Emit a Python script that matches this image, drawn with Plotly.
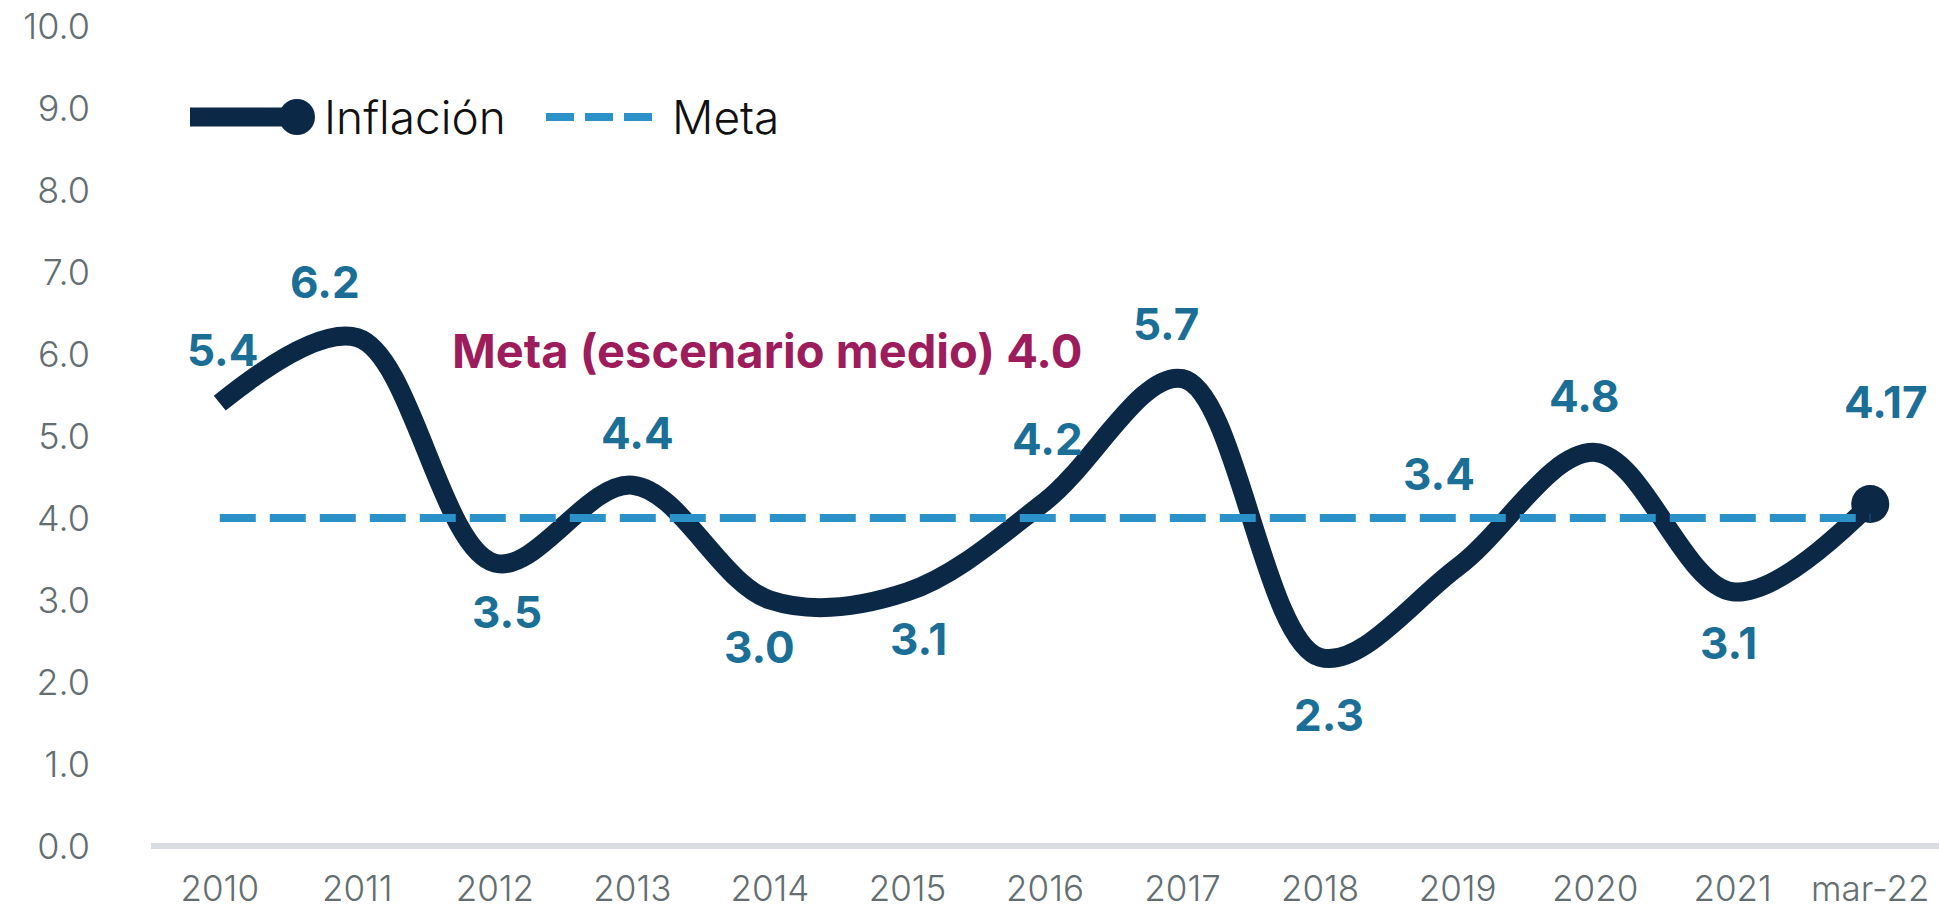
import plotly.graph_objects as go

categories = ["2010", "2011", "2012", "2013", "2014", "2015", "2016",
              "2017", "2018", "2019", "2020", "2021", "mar-22"]
inflacion = [5.4, 6.2, 3.45, 4.4, 3.0, 3.1, 4.2, 5.7, 2.3, 3.4, 4.8, 3.1, 4.17]
value_labels = ["5.4", "6.2", "3.5", "4.4", "3.0", "3.1", "4.2", "5.7",
                "2.3", "3.4", "4.8", "3.1", "4.17"]
meta = [4.0] * len(categories)
y_ticks = [0, 1, 2, 3, 4, 5, 6, 7, 8, 9, 10]
y_tick_labels = [f"{v:.1f}" for v in y_ticks]

# label offsets in px (xshift, yshift)
label_offsets = [(3, 53), (-32, 56), (12, -49), (5, 52), (-10, -47), (11, -47),
                 (2, 63), (-17, 55), (9, -58), (-19, 93), (-11, 56), (-4, -51),
                 (16, 102)]

NAVY = "#0b2846"
BLUE = "#2b91c9"
LABEL = "#1b6f97"
MAGENTA = "#9c1c5c"
GRAY = "#646e71"
FONT = "Inter"

fig = go.Figure()

fig.add_trace(go.Scatter(
    x=categories, y=inflacion, mode="lines", name="Inflación",
    line=dict(color=NAVY, width=19, shape="spline", smoothing=1.0),
    showlegend=False, hoverinfo="skip",
))
fig.add_trace(go.Scatter(
    x=categories[-1:], y=inflacion[-1:], mode="markers", name="Inflación",
    marker=dict(color=NAVY, size=38, opacity=1, line=dict(width=0)),
    showlegend=False, hoverinfo="skip",
))
fig.add_trace(go.Scatter(
    x=categories, y=meta, mode="lines", name="Meta",
    line=dict(color=BLUE, width=8, dash="36px,14px"),
    showlegend=False, hoverinfo="skip",
))

annotations = []
for i, (val, lab, (dx, dy)) in enumerate(zip(inflacion, value_labels, label_offsets)):
    annotations.append(dict(
        x=i, y=val, xref="x", yref="y", text=lab, showarrow=False,
        xshift=dx, yshift=dy, xanchor="center", yanchor="middle",
        font=dict(family=FONT, size=44, color=LABEL, weight="bold"),
    ))

# manual legend
W, H = 1788.0, 820.0
def px(x):
    return (x - 151) / W
def py(y):
    return (846 - y) / H

annotations.append(dict(
    x=px(767), y=py(350), xref="paper", yref="paper",
    text="Meta (escenario medio) 4.0", showarrow=False,
    xanchor="center", yanchor="middle",
    font=dict(family=FONT, size=47, color=MAGENTA, weight="bold"),
))

shapes = [
    dict(type="line", xref="paper", yref="paper", x0=px(190), x1=px(290),
         y0=py(117), y1=py(117), line=dict(color=NAVY, width=19)),
    dict(type="circle", xref="paper", yref="paper", x0=px(279), x1=px(315),
         y0=py(99), y1=py(135), fillcolor=NAVY, line=dict(width=0)),
    dict(type="line", xref="paper", yref="paper", x0=px(546), x1=px(652),
         y0=py(117), y1=py(117), line=dict(color=BLUE, width=8, dash="28px,11px")),
]
annotations.append(dict(
    x=px(322), y=py(117), xref="paper", yref="paper", text="Inflación",
    showarrow=False, xanchor="left", yanchor="middle",
    font=dict(family=FONT, size=46, color="#111111", weight=300),
))
annotations.append(dict(
    x=px(670), y=py(117), xref="paper", yref="paper", text="Meta",
    showarrow=False, xanchor="left", yanchor="middle",
    font=dict(family=FONT, size=46, color="#111111", weight=300),
))

fig.update_layout(
    width=1939, height=910,
    margin=dict(l=151, r=0, t=26, b=64),
    plot_bgcolor="white", paper_bgcolor="white",
    annotations=annotations, shapes=shapes,
    showlegend=False,
)
fig.update_xaxes(
    type="category", range=[-0.5, len(categories) - 0.5],
    showgrid=False, zeroline=False, showline=False, automargin=False,
    tickfont=dict(family=FONT, size=35, color=GRAY, weight=300),
    ticks="", ticklabelstandoff=19,
)
fig.update_yaxes(
    range=[0, 10], tickvals=y_ticks, ticktext=y_tick_labels,
    showgrid=False, zeroline=True, zerolinecolor="#d9dde3", zerolinewidth=6,
    showline=False, ticks="", automargin=False,
    tickfont=dict(family=FONT, size=36, color=GRAY, weight=300),
    ticklabelstandoff=60,
)

fig.write_html(
    "out.html",
    config={"displayModeBar": False},
    post_script="document.body.style.margin='0px';document.body.style.overflow='hidden';",
)
